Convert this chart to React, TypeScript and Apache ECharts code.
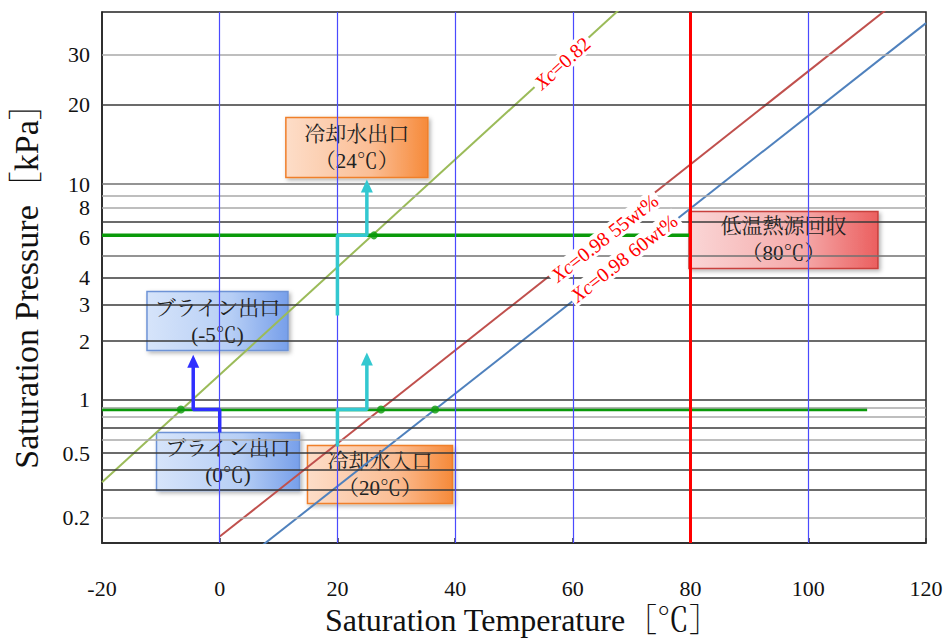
import React, { useEffect, useRef } from "react";
import * as echarts from "echarts";

// ---- axis scales ----
const xMin = -20;
const xMax = 120;
const xInterval = 20;
// y axis is drawn on the water saturation-temperature scale (Dühring chart), labelled in kPa
const yMinW = -18.8;
const yMaxW = 76.9;
const yLabelPressures = [0.2, 0.5, 1, 2, 3, 4, 6, 8, 10, 20, 30];
const gridDark = [0.3, 0.4, 0.5, 0.7, 1, 2, 3, 4, 7, 20];
const gridMid = [5, 10];
const gridLight = [0.2, 0.6, 0.8, 0.9, 8, 9, 30];
const blueVerticals = [0, 20, 40, 60, 100];
const heatSourceTemp = 80;

// ---- Dühring lines [solution temperature ℃, pressure kPa] ----
const lineXc082 = [[-20, 0.334], [70, 46.1]];
const lineXc098_55 = [[0, 0.15], [120, 53.3]];
const lineXc098_60 = [[0, 0.0762], [120, 38.3]];

// ---- operating levels ----
const lowerLevel = [[-20, 0.883], [110, 0.883]];
const upperLevel = [[-20, 6.14], [80, 6.14]];
const statePoints = [[-6.6, 0.883], [27.4, 0.883], [36.6, 0.883], [26.2, 6.14]];

// ---- arrows ----
const brineArrow = [[0, 0.656], [0, 0.883], [-4.5, 0.883], [-4.5, 1.587]];
const coolInArrow = [[20, 0.546], [20, 0.883], [25, 0.883], [25, 1.63]];
const coolOutArrow = [[20, 2.67], [20, 6.14], [25, 6.14], [25, 9.82]];

// ---- line labels [T, P] ----
const lineLabels = [
  { text: "=0.82", at: [58.2, 28.1], rot: 42 },
  { text: "=0.98 55wt%", at: [65.4, 6.0], rot: 38 },
  { text: "=0.98 60wt%", at: [68.7, 4.9], rot: 38 },
];

// ---- annotation boxes [T, P] centre ----
const boxes = [
  { lines: ["冷却水出口", "（24℃）"], at: [23.3, 13.9], w: 142, h: 60, kind: "orange" },
  { lines: ["ブライン出口", "(-5℃)"], at: [-0.38, 2.51], w: 141, h: 59, kind: "blue" },
  { lines: ["ブライン出口", "(0℃)"], at: [1.41, 0.4456], w: 143, h: 58, kind: "blue" },
  { lines: ["冷却水入口", "（20℃）"], at: [27.23, 0.3725], w: 145, h: 58, kind: "orange" },
  { lines: ["低温熱源回収", "（80℃）"], at: [95.78, 5.87], w: 189, h: 57, kind: "red" },
];

const p2w = (p: number) => 1730.63 / (8.07131 - Math.log10(p / 0.133322)) - 233.426;
const conv = (pts: number[][]) => pts.map(([t, p]) => [t, p2w(p)]);

const SERIF = "'Liberation Serif', 'Noto Serif CJK JP', 'Noto Sans CJK JP', serif";

const boxStyles: Record<string, { stops: string[]; stroke: string }> = {
  orange: { stops: ["#FDDDC8", "#FBBE95", "#F68A3A"], stroke: "#F07F2A" },
  blue: { stops: ["#D6E4FA", "#B6CEF5", "#779FEA"], stroke: "#6E93D6" },
  red: { stops: ["#FAD6D6", "#F5AAAA", "#EB5F5F"], stroke: "#C8403C" },
};

function arrowData(pts: number[][]) {
  const c = conv(pts);
  return c.map((v, i) =>
    i === c.length - 1
      ? { value: v, symbol: "triangle", symbolSize: [12, 13] }
      : { value: v, symbol: "none" }
  );
}

export default function App() {
  const ref = useRef<HTMLDivElement>(null);
  useEffect(() => {
    if (!ref.current) return;
    const chart = echarts.init(ref.current, null, { renderer: "svg" });
    const hLines = [
      ...gridDark.map((p) => ({ yAxis: p2w(p), lineStyle: { color: "#3a3a3a", width: 1.5, type: "solid" } })),
      ...gridMid.map((p) => ({ yAxis: p2w(p), lineStyle: { color: "#707070", width: 1.5, type: "solid" } })),
      ...gridLight.map((p) => ({ yAxis: p2w(p), lineStyle: { color: "#a8a8a8", width: 1.5, type: "solid" } })),
    ];
    const vLines = blueVerticals.map((t) => ({ xAxis: t }));
    const yLabelW = yLabelPressures.map(p2w);
    const option: any = {
      animation: false,
      backgroundColor: "#ffffff",
      grid: {
        left: 102,
        right: 23,
        top: 12,
        bottom: 100,
        show: true,
        borderColor: "#222",
        borderWidth: 1.5,
        backgroundColor: "transparent",
        outerBoundsMode: "none",
        containLabel: false,
      },
      xAxis: {
        type: "value",
        min: xMin,
        max: xMax,
        interval: xInterval,
        name: "Saturation Temperature［℃］",
        nameLocation: "middle",
        nameGap: 61,
        nameTextStyle: { fontFamily: SERIF, fontSize: 32, color: "#111", padding: [0, 0, 0, 18] },
        axisLine: { show: true, onZero: false, lineStyle: { color: "#222", width: 1.5 } },
        axisTick: { show: true, inside: true, length: 5, lineStyle: { color: "#333", width: 1.5 } },
        axisLabel: { fontFamily: SERIF, fontSize: 22, color: "#111", margin: 34 },
        splitLine: { show: false },
      },
      yAxis: {
        type: "value",
        min: yMinW,
        max: yMaxW,
        name: "Saturation Pressure［kPa］",
        nameLocation: "middle",
        nameRotate: 90,
        nameGap: 59,
        nameTextStyle: { fontFamily: SERIF, fontSize: 34, color: "#111" },
        axisLine: { show: true, onZero: false, lineStyle: { color: "#222", width: 1.5 } },
        axisTick: { show: false },
        splitLine: { show: false },
        axisLabel: {
          customValues: yLabelW,
          fontFamily: SERIF,
          fontSize: 22,
          color: "#111",
          margin: 12,
          formatter: (v: number) => {
            let best = 0;
            let bd = Infinity;
            yLabelW.forEach((w, i) => {
              const d = Math.abs(w - v);
              if (d < bd) {
                bd = d;
                best = i;
              }
            });
            return String(yLabelPressures[best]);
          },
        },
      },
      series: [
        {
          type: "line",
          data: [],
          z: 1,
          silent: true,
          markLine: {
            silent: true,
            symbol: "none",
            label: { show: false },
            data: hLines,
          },
        },
        {
          type: "line",
          data: [],
          z: 2,
          silent: true,
          markLine: {
            silent: true,
            symbol: "none",
            label: { show: false },
            lineStyle: { color: "#4a4aff", width: 1.2, type: "solid" },
            data: vLines,
          },
        },
        {
          type: "line",
          data: [],
          z: 6,
          silent: true,
          markLine: {
            silent: true,
            symbol: "none",
            label: { show: false },
            lineStyle: { color: "#ff0000", width: 3, type: "solid" },
            data: [{ xAxis: heatSourceTemp }],
          },
        },
        {
          type: "line",
          data: conv(lineXc082),
          showSymbol: false,
          lineStyle: { color: "#9BBB59", width: 2 },
          z: 3,
        },
        {
          type: "line",
          data: conv(lineXc098_55),
          showSymbol: false,
          lineStyle: { color: "#C0504D", width: 2 },
          z: 3,
        },
        {
          type: "line",
          data: conv(lineXc098_60),
          showSymbol: false,
          lineStyle: { color: "#4F81BD", width: 2 },
          z: 3,
        },
        {
          type: "line",
          data: conv(lowerLevel),
          showSymbol: false,
          lineStyle: { color: "#0A9A0A", width: 3.5 },
          z: 4,
        },
        {
          type: "line",
          data: conv(upperLevel),
          showSymbol: false,
          lineStyle: { color: "#0A9A0A", width: 3.5 },
          z: 4,
        },
        {
          type: "line",
          data: arrowData(brineArrow),
          showSymbol: true,
          lineStyle: { color: "#2f2fff", width: 3.5 },
          itemStyle: { color: "#2f2fff" },
          z: 7,
        },
        {
          type: "line",
          data: arrowData(coolInArrow),
          showSymbol: true,
          lineStyle: { color: "#33C8D0", width: 3.5 },
          itemStyle: { color: "#33C8D0" },
          z: 7,
        },
        {
          type: "line",
          data: arrowData(coolOutArrow),
          showSymbol: true,
          lineStyle: { color: "#33C8D0", width: 3.5 },
          itemStyle: { color: "#33C8D0" },
          z: 7,
        },
        {
          type: "scatter",
          data: conv(statePoints),
          symbolSize: 8,
          itemStyle: { color: "#0A9A0A" },
          z: 8,
        },
        {
          type: "scatter",
          data: [],
          z: 9,
          markPoint: {
            symbol: "rect",
            symbolSize: 0,
            silent: true,
            data: lineLabels.map((l) => ({
              coord: [l.at[0], p2w(l.at[1])],
              label: {
                show: true,
                position: "inside",
                rotate: l.rot,
                formatter: "{i|Xc}" + l.text,
                fontFamily: SERIF,
                fontSize: 20,
                color: "#ff0000",
                backgroundColor: "#ffffff",
                padding: [0, 3],
                rich: { i: { fontFamily: SERIF, fontStyle: "italic", fontSize: 20, color: "#ff0000" } },
              },
            })),
          },
        },
      ],
    };
    chart.setOption(option);

    const graphics: any[] = boxes.map((b) => {
      const [cx, cy] = chart.convertToPixel({ gridIndex: 0 }, [b.at[0], p2w(b.at[1])]) as number[];
      const st = boxStyles[b.kind];
      return {
        type: "group",
        z: 20,
        children: [
          {
            type: "rect",
            shape: { x: cx - b.w / 2, y: cy - b.h / 2, width: b.w, height: b.h },
            style: {
              fill: {
                type: "linear",
                x: 0,
                y: 0,
                x2: 1,
                y2: 0,
                colorStops: [
                  { offset: 0, color: st.stops[0] },
                  { offset: 0.6, color: st.stops[1] },
                  { offset: 1, color: st.stops[2] },
                ],
              },
              stroke: st.stroke,
              lineWidth: 1.5,
              shadowBlur: 4,
              shadowOffsetX: 2,
              shadowOffsetY: 2,
              shadowColor: "rgba(0,0,0,0.3)",
            },
          },
          {
            type: "text",
            x: cx,
            y: cy,
            style: {
              text: b.lines.join("\n"),
              fill: "#222",
              font: `21px ${SERIF}`,
              align: "center",
              verticalAlign: "middle",
              lineHeight: 27,
            },
          },
        ],
      };
    });
    chart.setOption({ graphic: graphics });

    return () => chart.dispose();
  }, []);
  return (
    <div
      ref={ref}
      style={{ position: "fixed", left: 0, top: 0, width: 949, height: 643, background: "#fff" }}
    />
  );
}
